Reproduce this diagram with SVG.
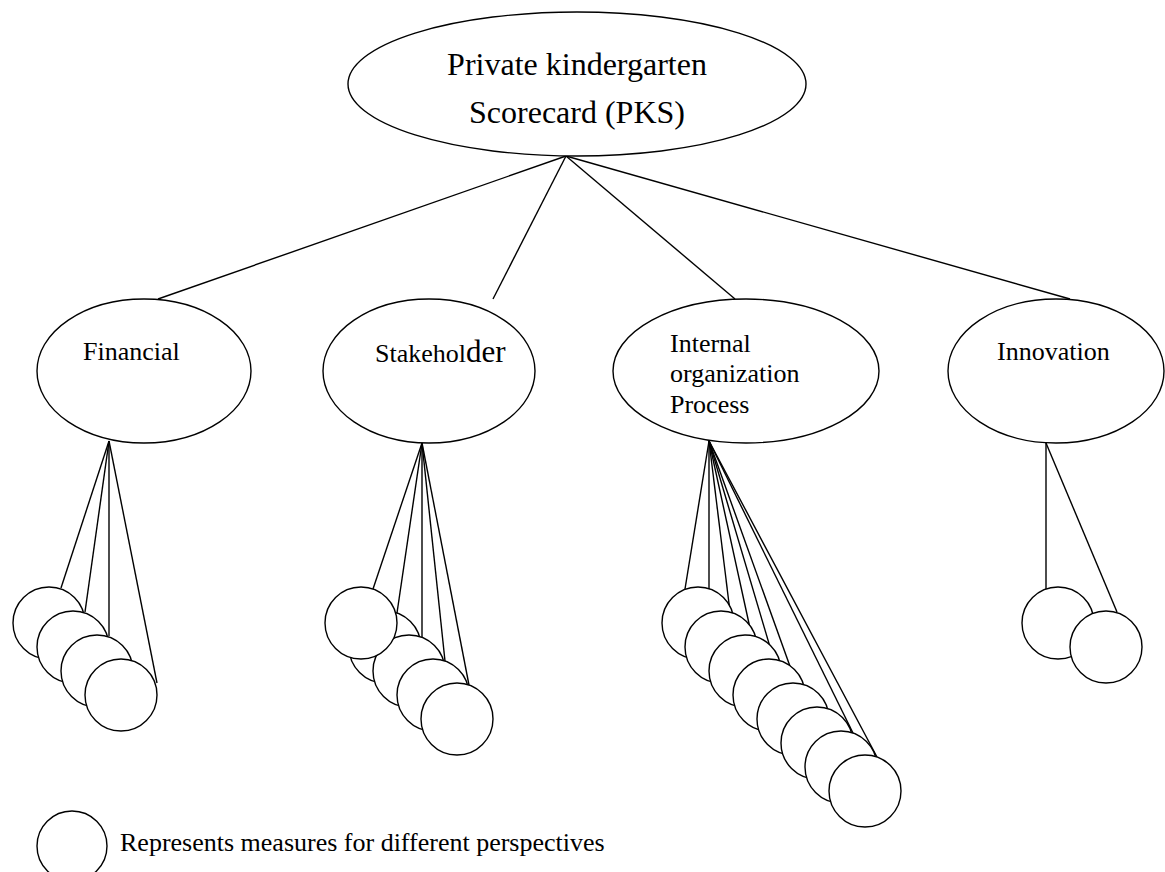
<svg xmlns="http://www.w3.org/2000/svg" width="1165" height="872" viewBox="0 0 1165 872">
<style>
.sh{fill:#fff;stroke:#000;stroke-width:1.4}
.ln{stroke:#000;stroke-width:1.4;fill:none}
.t{font-family:"Liberation Serif","Times New Roman",serif;fill:#000}
</style>
<rect width="1165" height="872" fill="#fff"/>
<g id="connectors" class="ln">
<line x1="566" y1="156" x2="158" y2="299"/>
<line x1="566" y1="156" x2="493" y2="299"/>
<line x1="566" y1="156" x2="735" y2="299"/>
<line x1="566" y1="156" x2="1070" y2="299"/>
<line x1="109" y1="441" x2="61" y2="588"/>
<line x1="109" y1="441" x2="85" y2="612"/>
<line x1="109" y1="441" x2="109" y2="636"/>
<line x1="109" y1="441" x2="157" y2="683"/>
<line x1="422" y1="443" x2="373" y2="589"/>
<line x1="422" y1="443" x2="397" y2="613"/>
<line x1="422" y1="443" x2="422" y2="637"/>
<line x1="422" y1="443" x2="445" y2="661"/>
<line x1="422" y1="443" x2="469" y2="685"/>
<line x1="709" y1="441" x2="685" y2="589"/>
<line x1="709" y1="441" x2="709" y2="612"/>
<line x1="709" y1="441" x2="733" y2="636"/>
<line x1="709" y1="441" x2="757" y2="660"/>
<line x1="709" y1="441" x2="781" y2="684"/>
<line x1="709" y1="441" x2="805" y2="708"/>
<line x1="709" y1="441" x2="853" y2="733"/>
<line x1="709" y1="441" x2="877" y2="757"/>
<line x1="1046" y1="443" x2="1046" y2="589"/>
<line x1="1046" y1="443" x2="1117" y2="612"/>
</g>
<g id="pks">
<ellipse class="sh" cx="577" cy="84" rx="229" ry="72"/>
<text class="t" x="577" y="75" font-size="32" text-anchor="middle">Private kindergarten</text>
<text class="t" x="577" y="123" font-size="32" text-anchor="middle">Scorecard (PKS)</text>
</g>
<g id="financial">
<ellipse class="sh" cx="144" cy="371" rx="107" ry="72"/>
<text class="t" x="83" y="360" font-size="26">Financial</text>
</g>
<g id="stakeholder">
<ellipse class="sh" cx="429" cy="371" rx="106" ry="72"/>
<text class="t" x="375" y="362" font-size="26">Stakehol<tspan font-size="31">der</tspan></text>
</g>
<g id="internal">
<ellipse class="sh" cx="746" cy="371" rx="133" ry="72"/>
<text class="t" x="670" y="352" font-size="26">Internal</text>
<text class="t" x="670" y="382" font-size="26">organization</text>
<text class="t" x="670" y="413" font-size="26">Process</text>
</g>
<g id="innovation">
<ellipse class="sh" cx="1056" cy="371" rx="108" ry="72"/>
<text class="t" x="997" y="360" font-size="26">Innovation</text>
</g>
<g id="financial-measures">
<circle class="sh" cx="49" cy="623" r="36"/>
<circle class="sh" cx="73" cy="647" r="36"/>
<circle class="sh" cx="97" cy="671" r="36"/>
<circle class="sh" cx="121" cy="695" r="36"/>
</g>
<g id="stakeholder-measures">
<circle class="sh" cx="385" cy="647" r="36"/>
<circle class="sh" cx="409" cy="671" r="36"/>
<circle class="sh" cx="433" cy="695" r="36"/>
<circle class="sh" cx="457" cy="719" r="36"/>
<circle class="sh" cx="361" cy="623" r="36"/>
</g>
<g id="internal-measures">
<circle class="sh" cx="698" cy="623" r="36"/>
<circle class="sh" cx="721" cy="647" r="36"/>
<circle class="sh" cx="745" cy="671" r="36"/>
<circle class="sh" cx="769" cy="695" r="36"/>
<circle class="sh" cx="793" cy="719" r="36"/>
<circle class="sh" cx="817" cy="743" r="36"/>
<circle class="sh" cx="841" cy="767" r="36"/>
<circle class="sh" cx="865" cy="791" r="36"/>
</g>
<g id="innovation-measures">
<circle class="sh" cx="1058" cy="623" r="36"/>
<circle class="sh" cx="1106" cy="647" r="36"/>
</g>
<g id="legend">
<circle class="sh" cx="72" cy="846" r="35"/>
<text class="t" x="120" y="851" font-size="26">Represents measures for different perspectives</text>
</g>
</svg>
